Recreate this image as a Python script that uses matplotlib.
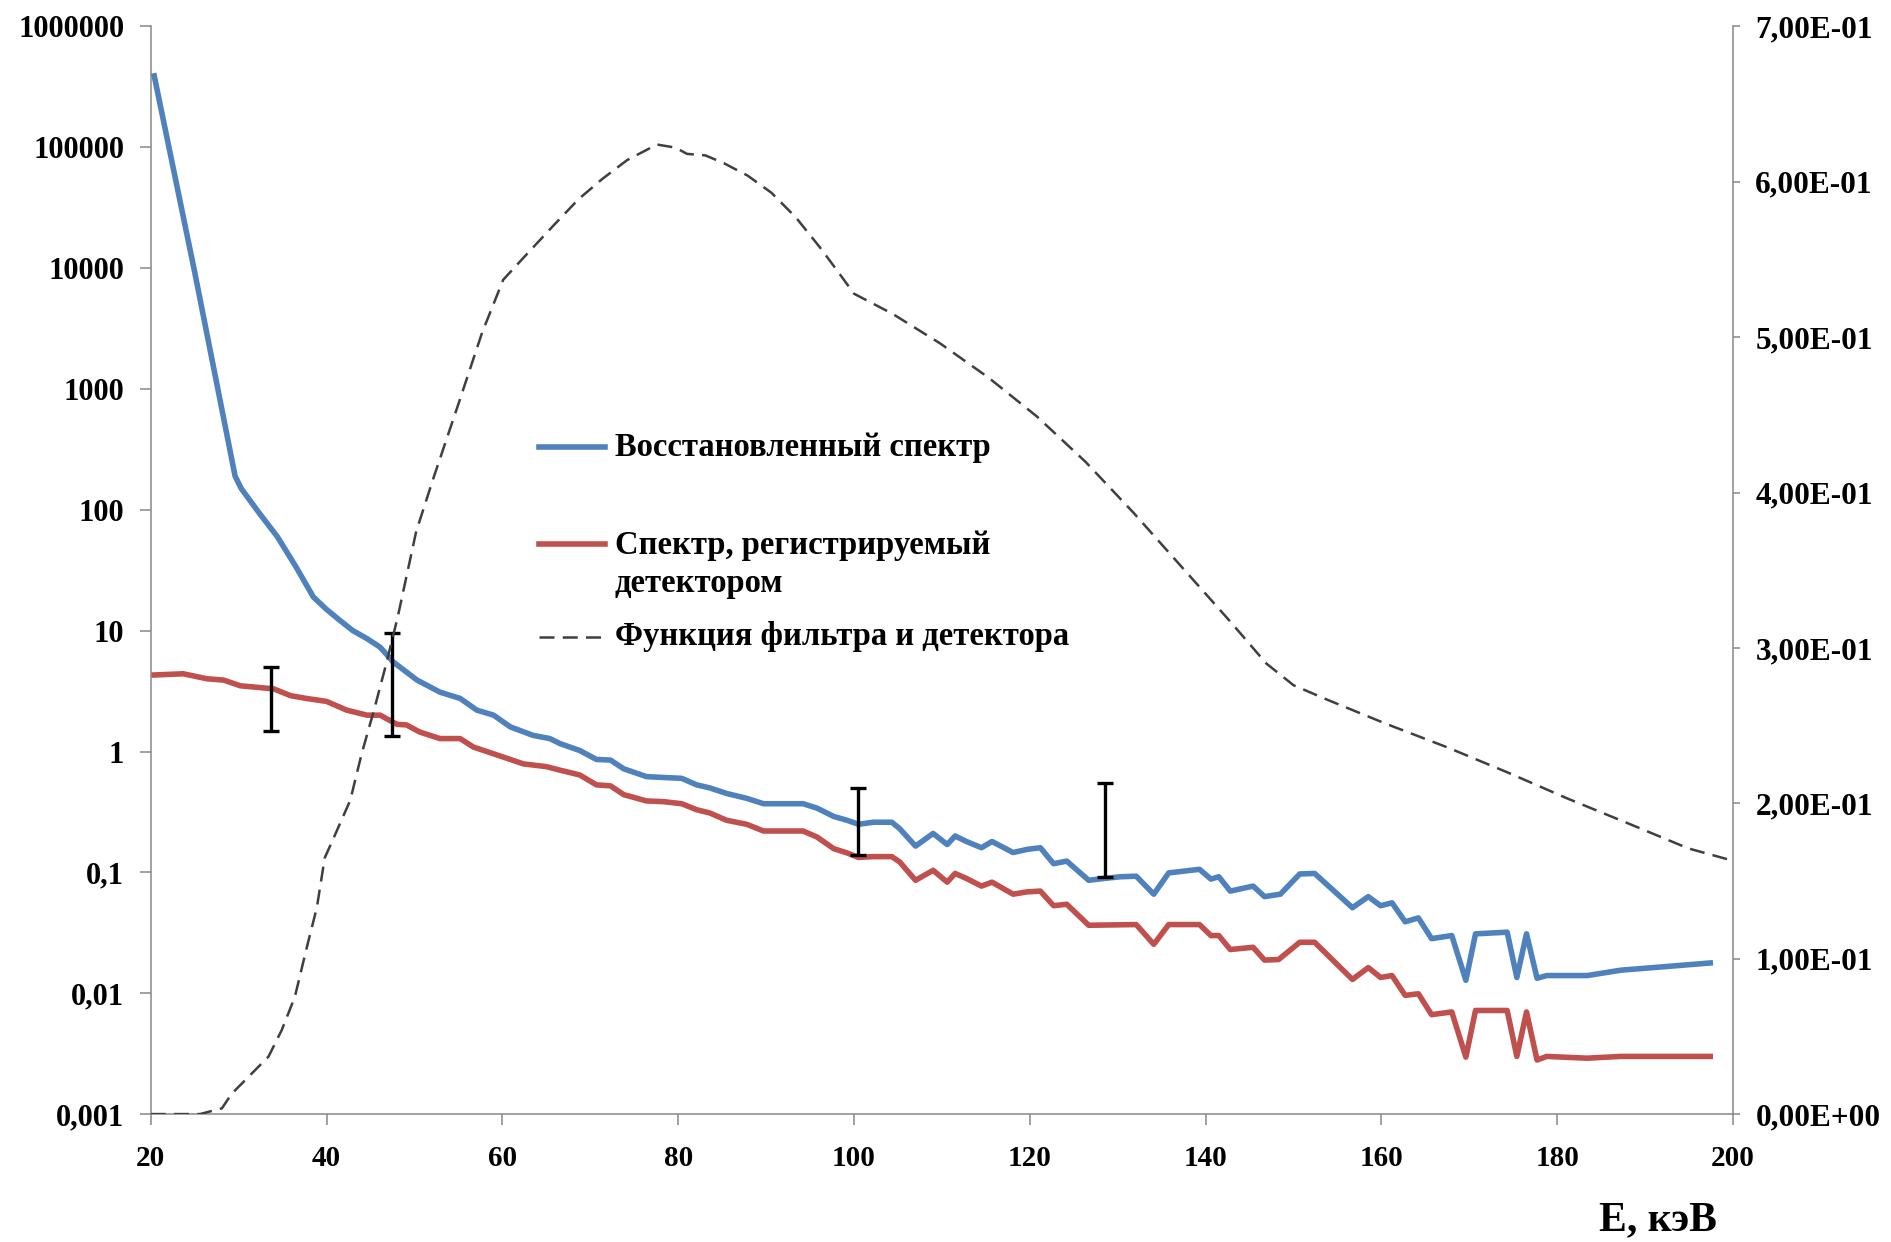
import numpy as np
import matplotlib
matplotlib.use("Agg")
import matplotlib.pyplot as plt
from matplotlib.ticker import FixedLocator, FuncFormatter, NullLocator

plt.rcParams['font.family'] = ['Liberation Serif', 'DejaVu Serif']
plt.rcParams['font.weight'] = 'bold'

# ---------------- data ----------------
E_blue = [20.4, 25.0, 29.6, 30.3, 32.3, 34.4, 36.5, 38.5, 40.0, 41.5, 43.0, 44.6, 46.1,
          47.6, 49.0, 50.3, 52.9, 55.2, 57.1, 59.0, 60.9, 63.5, 65.4, 66.6, 68.8, 70.7,
          72.3, 73.8, 76.4, 78.3, 80.4, 82.1, 83.6, 85.5, 87.8, 89.7, 94.2, 95.8, 97.7,
          99.2, 100.5, 102.2, 104.3, 105.2, 107.0, 109.0, 110.6, 111.5, 112.8, 114.5,
          115.7, 118.1, 119.7, 121.2, 122.7, 124.2, 126.7, 128.4, 130.3, 132.1, 134.1,
          135.8, 139.3, 140.6, 141.5, 142.8, 145.4, 146.7, 148.5, 150.7, 152.4, 156.7,
          158.5, 159.9, 161.2, 162.7, 164.2, 165.7, 168.0, 169.6, 170.7, 174.3, 175.4,
          176.5, 177.7, 178.8, 183.4, 187.2, 197.4]
S_blue = [3.9e5, 9.3e3, 190, 150, 95, 60, 34, 19, 15, 12.2, 10, 8.6, 7.3,
          5.5, 4.6, 3.9, 3.1, 2.75, 2.2, 2.0, 1.6, 1.36, 1.28, 1.16, 1.02, 0.86,
          0.85, 0.72, 0.62, 0.61, 0.60, 0.53, 0.50, 0.45, 0.41, 0.37, 0.37, 0.34, 0.29,
          0.27, 0.25, 0.26, 0.26, 0.23, 0.165, 0.21, 0.17, 0.20, 0.18, 0.16,
          0.18, 0.146, 0.155, 0.16, 0.118, 0.124, 0.086, 0.089, 0.092, 0.093, 0.066,
          0.099, 0.106, 0.088, 0.092, 0.070, 0.077, 0.063, 0.066, 0.097, 0.098, 0.051,
          0.063, 0.053, 0.056, 0.039, 0.042, 0.0283, 0.030, 0.0128, 0.031, 0.032, 0.0135,
          0.031, 0.0133, 0.014, 0.014, 0.0155, 0.0178]

E_red = [20.4, 23.7, 26.4, 28.3, 30.2, 32.1, 34.0, 35.9, 37.7, 40.0, 42.3, 44.6, 46.1,
         48.0, 49.1, 50.6, 52.9, 55.2, 56.7, 60.5, 62.4, 65.0, 66.6, 68.8, 70.7, 72.3,
         73.8, 76.4, 78.3, 80.4, 82.1, 83.6, 85.5, 87.8, 89.7, 94.2, 95.8, 97.7, 99.2,
         100.5, 102.2, 104.3, 105.2, 107.0, 109.0, 110.6, 111.5, 112.8, 114.5, 115.7,
         118.1, 119.7, 121.2, 122.7, 124.2, 126.7, 132.1, 134.1, 135.8, 139.3, 140.6,
         141.5, 142.8, 145.4, 146.7, 148.3, 150.7, 152.4, 156.7, 158.5, 159.9, 161.2,
         162.7, 164.2, 165.7, 168.0, 169.6, 170.7, 174.3, 175.4, 176.5, 177.7, 178.8,
         183.4, 187.2, 197.4]
S_red = [4.3, 4.4, 4.0, 3.9, 3.5, 3.4, 3.3, 2.9, 2.75, 2.6, 2.2, 2.0, 2.0,
         1.68, 1.66, 1.45, 1.28, 1.28, 1.09, 0.88, 0.79, 0.75, 0.70, 0.64, 0.53, 0.52,
         0.44, 0.39, 0.385, 0.37, 0.33, 0.31, 0.27, 0.25, 0.22, 0.22, 0.196, 0.157, 0.145,
         0.133, 0.135, 0.135, 0.122, 0.086, 0.104, 0.083, 0.098, 0.089, 0.077, 0.083,
         0.066, 0.069, 0.070, 0.053, 0.0545, 0.0365, 0.037, 0.0254, 0.037, 0.037, 0.030,
         0.030, 0.023, 0.024, 0.0188, 0.019, 0.0264, 0.0264, 0.013, 0.0163, 0.0135, 0.014,
         0.0096, 0.0099, 0.00665, 0.0070, 0.00296, 0.0072, 0.0072, 0.0030, 0.0070, 0.0028, 0.0030,
         0.0029, 0.0030, 0.0030]

E_filt = [20, 25.6, 28.1, 29.2, 31.3, 33.4, 34.9, 36.4, 37.7, 38.9, 39.8, 40.6, 42.7,
          44.0, 45.4, 46.8, 48.1, 50.2, 52.2, 55.0, 57.7, 60.1, 63.2, 66.0, 68.7, 71.4,
          74.2, 76.9, 77.6, 79.7, 81.0, 83.1, 85.2, 87.9, 90.6, 93.4, 96.1, 98.2, 100.0,
          104.4, 109.8, 115.3, 120.8, 126.3, 131.8, 137.3, 142.8, 146.9, 150.0, 153.7,
          160.6, 167.5, 174.3, 181.2, 188.1, 194.9, 200.0]
F_filt = [0, 0, 0.0037, 0.013, 0.025, 0.037, 0.054, 0.0755, 0.106, 0.133, 0.165, 0.175, 0.202,
          0.232, 0.26, 0.29, 0.32, 0.375, 0.41, 0.457, 0.503, 0.537, 0.556, 0.573, 0.589, 0.602,
          0.614, 0.622, 0.624, 0.622, 0.618, 0.617, 0.612, 0.604, 0.593, 0.577, 0.558, 0.542, 0.528,
          0.515, 0.496, 0.474, 0.449, 0.42, 0.387, 0.352, 0.317, 0.29, 0.276, 0.267,
          0.251, 0.236, 0.22, 0.203, 0.187, 0.171, 0.163]

E_err = [33.7, 47.5, 100.5, 128.5]
err_low = [1.48, 1.35, 0.138, 0.092]
err_high = [5.0, 9.5, 0.50, 0.553]

left_ticks = [1e-3, 1e-2, 1e-1, 1, 10, 100, 1000, 10000, 100000, 1000000]
left_labels = ['0,001', '0,01', '0,1', '1', '10', '100', '1000', '10000', '100000', '1000000']
right_ticks = [0.0, 0.1, 0.2, 0.3, 0.4, 0.5, 0.6, 0.7]
x_ticks = [20, 40, 60, 80, 100, 120, 140, 160, 180, 200]

labels = ['Восстановленный спектр',
          'Спектр, регистрируемый\nдетектором',
          'Функция фильтра и детектора']
x_label = 'E, кэВ'

# ---------------- figure ----------------
BLUE = '#4F81BD'
RED = '#C0504D'
DASH = '#3F3F3F'
SPINE = '#878787'

fig = plt.figure(figsize=(18.91, 12.42), dpi=100)
ax = fig.add_axes([0.0797, 0.103, 0.8368, 0.8757])
ax2 = ax.twinx()

ax.set_yscale('log')
ax.plot(E_blue, S_blue, color=BLUE, lw=4.0, solid_joinstyle='round', zorder=3)
ax.plot(E_red, S_red, color=RED, lw=4.0, solid_joinstyle='round', zorder=3)

mid = np.sqrt(np.array(err_low) * np.array(err_high))
yerr = [mid - np.array(err_low), np.array(err_high) - mid]
ax.errorbar(E_err, mid, yerr=yerr, fmt='none', ecolor='black', elinewidth=2.4,
            capsize=6, capthick=2.4, zorder=4)

ax2.plot(E_filt, F_filt, color=DASH, lw=1.8, dashes=(6, 3.3), zorder=2)

ax.set_xlim(20, 200)
ax.set_ylim(1e-3, 1e6)
ax2.set_ylim(0, 0.7)

ax.xaxis.set_major_locator(FixedLocator(x_ticks))
ax.yaxis.set_major_locator(FixedLocator(left_ticks))
ax.yaxis.set_minor_locator(NullLocator())
ax.set_yticklabels(left_labels)
ax2.yaxis.set_major_locator(FixedLocator(right_ticks))
ax2.yaxis.set_major_formatter(FuncFormatter(lambda v, p: f"{v:.2E}".replace('.', ',')))

for a in (ax, ax2):
    a.spines['top'].set_visible(False)
    for s in a.spines.values():
        s.set_color(SPINE)
        s.set_linewidth(1.1)
ax.spines['right'].set_visible(False)
ax2.spines['left'].set_visible(False)
ax2.spines['bottom'].set_visible(False)

ax.tick_params(axis='y', direction='out', length=8, width=1.1, color=SPINE,
               labelsize=22, pad=11)
ax.tick_params(axis='x', direction='out', length=8, width=1.1, color=SPINE,
               labelsize=21, pad=14)
ax2.tick_params(axis='y', direction='out', length=5, width=1.1, color=SPINE,
                labelsize=22.5, pad=11)
for lab in ax.get_xticklabels() + ax.get_yticklabels() + ax2.get_yticklabels():
    lab.set_fontweight('bold')

fig.text(1658 / 1891, 1 - 1220 / 1242, x_label, fontsize=30, fontweight='bold',
         ha='center', va='center')

# ---------------- legend (frameless, as in the original) ----------------
hx0, hx1, tx = 0.2454, 0.2873, 0.2934
ax2.plot([hx0, hx1], [0.6131, 0.6131], color=BLUE, lw=4.0, transform=ax2.transAxes, clip_on=False)
ax2.text(tx, 0.6131, labels[0], transform=ax2.transAxes, fontsize=23.5, fontweight='bold',
         ha='left', va='center')
ax2.plot([hx0, hx1], [0.5244, 0.5244], color=RED, lw=4.0, transform=ax2.transAxes, clip_on=False)
ax2.text(tx, 0.5056, labels[1], transform=ax2.transAxes, fontsize=23.5, fontweight='bold',
         ha='left', va='center', linespacing=1.28)
ax2.plot([hx0, hx1], [0.439, 0.439], color=DASH, lw=1.8, dashes=(6, 3.3),
         transform=ax2.transAxes, clip_on=False)
ax2.text(tx, 0.439, labels[2], transform=ax2.transAxes, fontsize=23.5, fontweight='bold',
         ha='left', va='center')

fig.savefig('out.png', dpi=100, facecolor='white')
